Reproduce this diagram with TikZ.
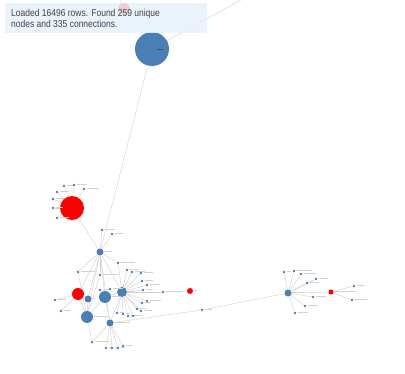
\documentclass[tikz,border=0pt]{standalone}
\usepackage{fontspec}
\setmainfont{Liberation Sans}
\usetikzlibrary{backgrounds}
\definecolor{nblue}{HTML}{4A7FB5}
\definecolor{nred}{HTML}{FF0000}
\definecolor{edgec}{HTML}{D6CFCF}
\definecolor{boxc}{HTML}{E6F0FB}
\definecolor{txtc}{HTML}{444444}
\tikzset{
  bnode/.style={circle,fill=nblue,inner sep=0pt,minimum size=#1},
  rnode/.style={circle,fill=nred,inner sep=0pt,minimum size=#1},
  dotn/.style={circle,fill=nblue,inner sep=0pt,minimum size=2.8pt},
  edge/.style={draw=edgec,line width=0.45pt},
  lbl/.style={draw=gray!35,line width=1pt},
}
\begin{document}
\begin{tikzpicture}[x=1pt,y=-1pt]
\useasboundingbox (0,0) rectangle (405,374);
% main nodes
\node[rnode=12pt] (RT) at (124,9) {};
\node[bnode=34pt] (BB) at (152,49) {};
\draw[draw=black!70,line width=0.8pt] (157,49) -- (163,49);
\node[rnode=24pt] (R1) at (72,208) {};
\node[bnode=7pt] (H1) at (100,252) {};
\node[rnode=12pt] (R2) at (78,294) {};
\node[bnode=7pt] (C1) at (88,299) {};
\node[bnode=12pt] (C2) at (105,297) {};
\node[bnode=10pt] (C3) at (122,292) {};
\node[bnode=12pt] (C4) at (87,317) {};
\node[bnode=7pt] (C5) at (110,323) {};
\node[rnode=6pt] (R3) at (190,291) {};
\node[bnode=7pt] (H3) at (288,293) {};
\node[rnode=5pt] (R4) at (331,292) {};
\coordinate (TR) at (248,-4);
\coordinate (TU) at (118,-4);
% small labelled dots
\foreach \n/\x/\y/\w in {
  a1/64/186/8, a2/74/185/10, a3/84/189/12, a4/57/192/9, a5/53/199/9, a6/53/208/7, a7/57/218/9,
  b1/102/230/10, b2/112/234/8,
  d1/78/272/14, d2/100/275/15, d3/118/263/14, d4/55/300/8, d5/61/311/7,
  d6/92/342/14, d7/106/348/3, d8/112/348/3, d9/118/348/4, d10/123/346/6, d11/100/290/6, d12/110/289/10,
  e1/127/270/9, e2/132/272/10, e3/141/273/9, e4/142/281/8, e5/147/285/10, e6/143/290/7, e7/163/292/16,
  e8/142/303/6, e9/147/301/11, e10/137/309/6, e11/141/311/8, e12/117/313/4, e13/123/314/4, e14/128/316/5, e15/133/316/6,
  f1/202/310/7,
  g1/284/272/4, g2/294/271/15, g3/301/274/12, g4/316/279/9, g5/307/283/9, g6/313/297/10, g7/305/306/10, g8/295/313/10, g9/354/286/7, g10/352/300/12}
{
  \node[dotn] (\n) at (\x,\y) {};
  \draw[lbl] (\x+2.5,\y) -- ++(\w,0);
}
% labels of larger nodes
\draw[lbl] (104,252) -- ++(8,0);
\draw[lbl] (128,292) -- ++(6,0);
\draw[lbl] (94,317) -- ++(14,0);
\draw[lbl] (114,323) -- ++(16,0);
\draw[lbl] (112,297) -- ++(8,0);
\draw[lbl] (194,291) -- ++(3,0);
\draw[lbl] (292,293) -- ++(12,0);
\draw[lbl] (334,292) -- ++(22,0);
% text box
\fill[boxc,fill opacity=0.86] (5,3) rectangle (207,33);
\node[text=txtc,align=left,anchor=north west,inner sep=0pt,
  font=\fontsize{10pt}{11pt}\selectfont] (TB) at (11,9.5)
  {\scalebox{0.85}[1]{Loaded 16496 rows. Found 259 unique}\\\scalebox{0.85}[1]{nodes and 335 connections.}};
% edges
\begin{pgfonlayer}{background}
\draw[edge] (BB) -- (TR);
\draw[edge] (RT) -- (TU);
\draw[edge] (BB) -- (H1);
\draw[edge] (R1) -- (H1);
\foreach \t in {a1,a2,a3,a4,a5,a6,a7} \draw[edge] (R1) -- (\t);
\foreach \t in {b1,b2,R2,C1,C2,C3,C4,C5,d1,d2,d3} \draw[edge] (H1) -- (\t);
\foreach \s/\t in {C2/C4,C2/C5,C1/C4,R2/C4,R2/d4,R2/d5,C1/C2,C3/C2,C3/C5,C2/d11,C2/d12,d1/C4,d2/C4,e7/R3,C5/f1,f1/H3,H3/R4,R4/g9,R4/g10,C4/d6}
  \draw[edge] (\s) -- (\t);
\foreach \t in {e1,e2,e3,e4,e5,e6,e7,e8,e9,e10,e11,e12,e13,e14,e15,d3} \draw[edge] (C3) -- (\t);
\foreach \t in {d6,d7,d8,d9,d10} \draw[edge] (C5) -- (\t);
\foreach \t in {g1,g2,g3,g4,g5,g6,g7,g8} \draw[edge] (H3) -- (\t);
\end{pgfonlayer}
\end{tikzpicture}
\end{document}
